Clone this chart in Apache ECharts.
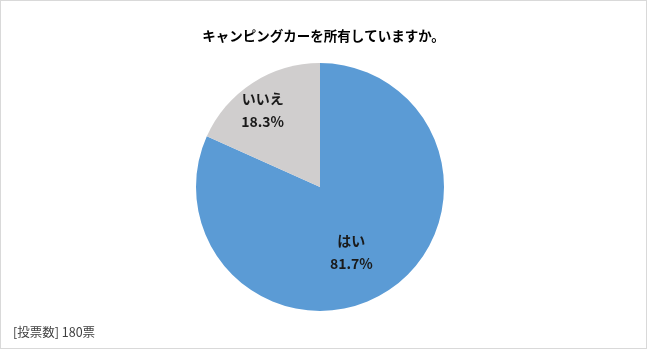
<!DOCTYPE html>
<html><head><meta charset="utf-8">
<script src="https://cdn.jsdelivr.net/npm/echarts@6/dist/echarts.min.js"></script>
<style>
html,body{margin:0;padding:0;background:#fff;}
#c{width:645px;height:347px;border:1px solid #d9d9d9;}
</style></head>
<body><div id="c"></div>
<script>
const titleText = 'キャンピングカーを所有していますか。';
const categories = ['はい', 'いいえ'];
const values = [81.7, 18.3];
const colors = ['#5B9BD5', '#D0CECE'];
const footnote = '[投票数] 180票';
const labelShift = [[-4, 11], [-22, -22]];

const chart = echarts.init(document.getElementById('c'), null, {renderer: 'canvas'});
chart.setOption({
  animation: false,
  title: {
    text: titleText, left: 'center', top: 23,
    textStyle: {fontFamily: 'Noto Sans CJK JP', fontSize: 13.5, fontWeight: 'bold', color: '#000'}
  },
  graphic: [{
    type: 'text', left: 12, top: 325,
    style: {text: footnote, fontFamily: 'Noto Sans CJK JP', fontSize: 12.5, fill: '#404040'}
  }],
  series: [{
    type: 'pie',
    center: [319, 186],
    radius: 124,
    startAngle: 90,
    clockwise: true,
    silent: true,
    data: categories.map((n, i) => ({name: n, value: values[i], itemStyle: {color: colors[i]}})),
    label: {
      position: 'inside',
      formatter: p => p.name + '\n' + p.value.toFixed(1) + '%',
      fontFamily: 'Noto Sans CJK JP', fontSize: 14, fontWeight: 'bold', color: '#1a1a1a',
      lineHeight: 23
    },
    labelLine: {show: false},
    labelLayout: p => ({dx: labelShift[p.dataIndex][0], dy: labelShift[p.dataIndex][1]})
  }]
});
</script></body></html>
